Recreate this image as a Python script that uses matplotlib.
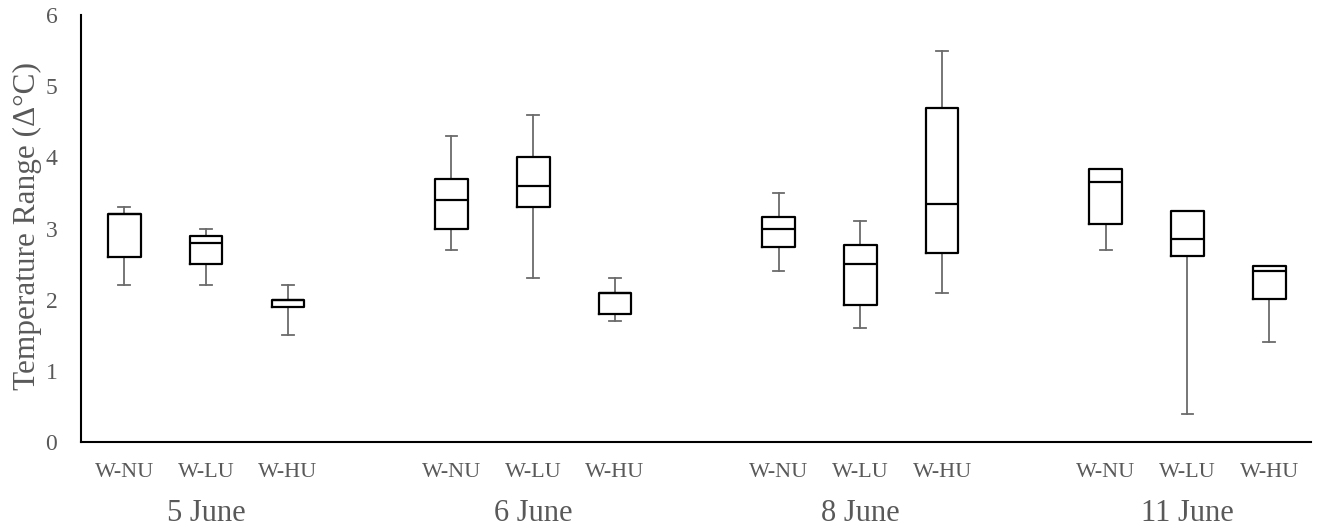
import matplotlib.pyplot as plt

# -----------------------------------------------
# Data
# -----------------------------------------------
dates = ["5 June", "6 June", "8 June", "11 June"]
treatments = ["W-NU", "W-LU", "W-HU"]

# one entry per box, in order: date by date, treatment by treatment
whisker_low = [2.2, 2.2, 1.5,   2.7, 2.3, 1.7,   2.4, 1.6, 2.1,   2.7, 0.4, 1.4]
q1          = [2.6, 2.5, 1.9,   3.0, 3.3, 1.8,   2.74, 1.92, 2.66, 3.07, 2.62, 2.01]
median      = [3.2, 2.8, 2.0,   3.4, 3.6, 2.1,   3.0, 2.5, 3.35,   3.65, 2.85, 2.4]
q3          = [3.2, 2.9, 2.0,   3.7, 4.0, 2.1,   3.16, 2.77, 4.7,  3.84, 3.25, 2.47]
whisker_high = [3.3, 3.0, 2.2,  4.3, 4.6, 2.3,   3.5, 3.1, 5.5,    3.84, 3.25, 2.47]

GRAY = "#595959"
plt.rcParams["font.family"] = ["Liberation Serif", "DejaVu Serif"]


def box_positions():
    # three boxes per date, one empty slot between dates
    pos = []
    for g in range(len(dates)):
        for t in range(len(treatments)):
            pos.append(g * (len(treatments) + 1) + t)
    return pos


def main():
    fig = plt.figure(figsize=(13.21, 5.29), dpi=100)
    ax = fig.add_axes([0.0613, 0.1645, 0.9311, 0.8071])

    stats = []
    for lo, a, m, b, hi in zip(whisker_low, q1, median, q3, whisker_high):
        stats.append({"whislo": lo, "q1": a, "med": m, "q3": b, "whishi": hi, "fliers": []})

    positions = box_positions()
    parts = ax.bxp(stats, positions=positions, widths=0.40, showfliers=False,
                   boxprops=dict(color="black", linewidth=1.6),
                   medianprops=dict(color="black", linewidth=1.6),
                   whiskerprops=dict(color="#6b6b6b", linewidth=1.3),
                   capprops=dict(color="#6b6b6b", linewidth=1.3),
                   capwidths=0.145)

    # whisker caps that coincide with a box edge stay hidden behind it
    for line in parts["whiskers"] + parts["caps"]:
        line.set_zorder(2)
    for line in parts["boxes"] + parts["medians"]:
        line.set_zorder(3)
    for i, hi in enumerate(whisker_high):
        if hi <= q3[i]:
            parts["caps"][2 * i + 1].set_visible(False)

    ax.set_xlim(-0.53, 14.51)
    ax.set_ylim(0, 6)
    ax.set_yticks(range(0, 7))
    ax.tick_params(axis="y", length=0, pad=17, labelsize=17, labelcolor=GRAY)
    ax.set_xticks(positions)
    ax.set_xticklabels(treatments * len(dates))
    ax.tick_params(axis="x", length=0, pad=15, labelsize=16, labelcolor=GRAY)

    for side in ("top", "right"):
        ax.spines[side].set_visible(False)
    for side in ("left", "bottom"):
        ax.spines[side].set_linewidth(1.5)
        ax.spines[side].set_color("black")

    # date labels under the middle box of each group
    for g, d in enumerate(dates):
        ax.text(positions[g * 3 + 1], -0.167, d, transform=ax.get_xaxis_transform(),
                ha="center", va="center", fontsize=22, color=GRAY)

    fig.text(27 / 1321, 1 - 226 / 529, "Temperature Range (\u0394\u00b0C)", rotation=90,
             ha="center", va="center", fontsize=22.5, color=GRAY)

    fig.savefig("out.png", dpi=100)


if __name__ == "__main__":
    main()
